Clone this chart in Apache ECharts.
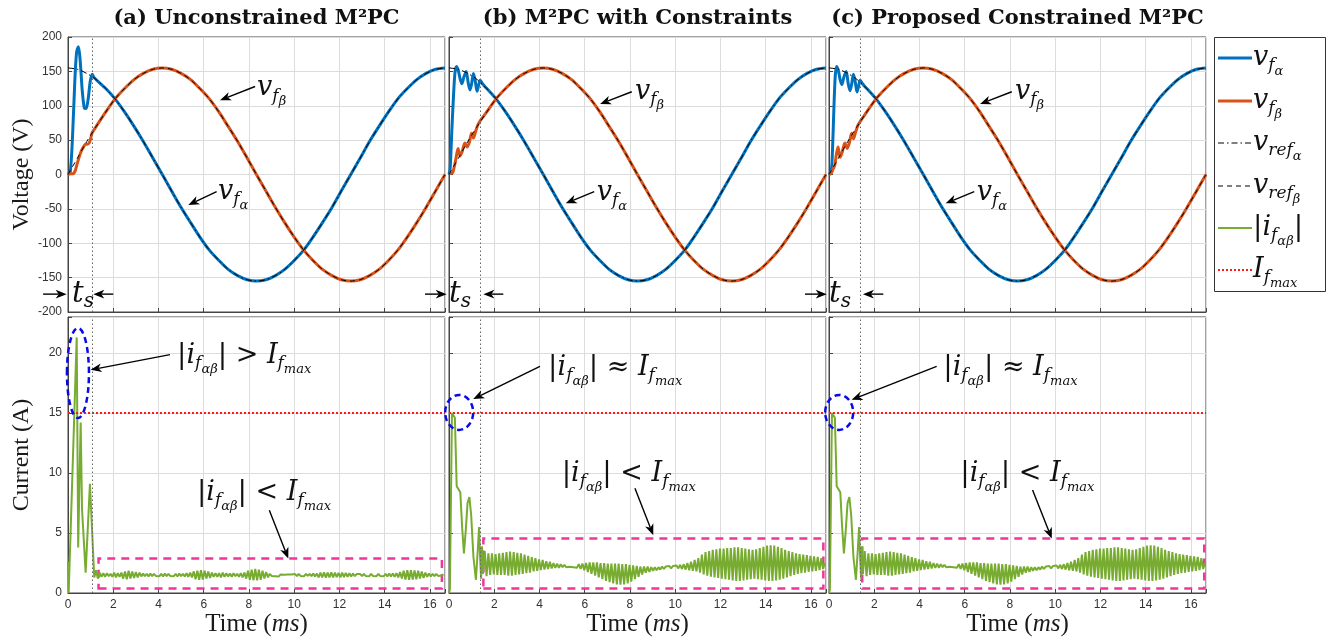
<!DOCTYPE html>
<html>
<head>
<meta charset="utf-8">
<script src="https://cdn.jsdelivr.net/npm/echarts@6.0.0/dist/echarts.min.js"></script>
<style>
html, body { margin: 0; padding: 0; background: #fff; }
#chart { width: 1335px; height: 641px; }
</style>
</head>
<body>
<div id="chart"></div>
<script>
// ---- data ----
var titles = ['(a) Unconstrained M\u00b2PC', '(b) M\u00b2PC with Constraints', '(c) Proposed Constrained M\u00b2PC'];
var tMax = 16.667;

// reference voltages (one 60 Hz cycle), V
var refT = [0,0.42,0.83,1.25,1.67,2.08,2.5,2.92,3.33,3.75,4.17,4.58,5,5.42,5.83,6.25,6.67,7.08,7.5,7.92,
    8.33,8.75,9.17,9.58,10,10.42,10.83,11.25,11.67,12.08,12.5,12.92,13.33,13.75,14.17,14.58,15,15.42,15.83,16.25,16.667];
var refAlpha = [155,153,147,138,125,110,91,70,48,24,0,-24,-48,-70,-91,-110,-125,-138,-147,-153,
    -155,-153,-147,-138,-125,-110,-91,-70,-48,-24,0,24,48,70,91,110,125,138,147,153,155];
var refBeta = [0,24,48,70,91,110,125,138,147,153,155,153,147,138,125,110,91,70,48,24,
    0,-24,-48,-70,-91,-110,-125,-138,-147,-153,-155,-153,-147,-138,-125,-110,-91,-70,-48,-24,0];

// start-up transients of the filter voltages [t (ms), V]
var vAlphaStartA = [[0,0],[0.1,4],[0.2,55],[0.3,135],[0.38,178],[0.46,186],[0.54,165],[0.63,122],[0.72,97],[0.8,96],
    [0.9,112],[0.98,135],[1.07,146],[1.15,141]];
var vBetaStartA = [[0,0],[0.1,1],[0.2,1],[0.3,4],[0.4,15],[0.5,26],[0.6,35],[0.7,41],[0.78,44],[0.86,44],
    [0.94,46],[1.0,52],[1.06,60],[1.15,65]];
var vAlphaStartB = [[0,0],[0.05,8],[0.12,60],[0.2,115],[0.27,150],[0.34,157],[0.42,150],[0.5,138],[0.57,132],[0.66,142],
    [0.76,150],[0.85,133],[0.93,123],[1.0,132],[1.08,147],[1.16,136],[1.24,121],[1.31,130],[1.38,137],[1.48,132]];
var vBetaStartB = [[0,2],[0.1,2],[0.17,3],[0.3,22],[0.4,38],[0.49,27],[0.58,33],[0.7,46],[0.8,40],[0.9,47],
    [1.0,60],[1.08,53],[1.18,63],[1.3,74]];
var vAlphaStartC = [[0,0],[0.1,5],[0.16,40],[0.22,100],[0.28,145],[0.34,157],[0.42,150],[0.5,137],[0.57,131],[0.66,142],
    [0.76,150],[0.85,132],[0.93,122],[1.0,131],[1.08,146],[1.16,135],[1.24,120],[1.31,129],[1.38,137],[1.48,132]];
var vBetaStartC = [[0,0],[0.1,2],[0.18,8],[0.26,14],[0.32,28],[0.4,40],[0.49,25],[0.58,32],[0.7,46],[0.8,38],
    [0.9,46],[1.0,60],[1.08,52],[1.18,62],[1.3,73]];

// filter current magnitude [t (ms), A]
var iStartA = [[0,2.6],[0.03,0],[0.1,0],[0.385,21.3],[0.45,3.8],[0.56,14.2],[0.62,7],[0.78,1.7],[0.97,9.1],[1.16,1.3]];
var iStartB = [[0,0],[0.04,0.3],[0.13,15],[0.2,15.1],[0.26,14.6],[0.34,8.9],[0.42,8.8],[0.5,8.4],[0.58,5.5],[0.66,3.3],
    [0.74,5.2],[0.82,7.5],[0.9,8.0],[0.98,6.5],[1.08,3.0],[1.19,1.1],[1.27,3.5],[1.33,5.5],[1.38,2.8],[1.42,1.2],[1.46,3.9]];

// steady-state ripple, one value every rippleStep ms
var rippleStep = 0.08;
var rippleStartA = 1.24;
var rippleA = [1.9,1.2,1.7,1.35,1.65,1.35,1.65,1.4,1.6,1.35,1.7,1.3,1.65,1.35,1.7,
    1.2,1.8,1.15,1.85,1.2,1.8,1.25,1.75,1.3,1.7,
    1.38,1.62,1.4,1.6,1.38,1.62,1.4,1.6,1.42,1.58,1.4,1.6,1.38,1.62,1.4,1.6,1.42,1.58,1.4,1.6,1.38,1.62,1.4,1.6,1.38,1.65,1.35,1.7,1.3,
    1.8,1.15,1.85,1.1,1.9,1.12,1.85,1.2,1.8,1.25,1.7,
    1.35,1.65,1.35,1.65,1.3,1.7,1.35,1.65,1.38,1.62,1.35,1.65,1.4,1.6,1.35,1.65,1.3,1.7,
    1.2,1.85,1.1,1.95,1.05,2.0,1.05,1.95,1.1,1.85,1.2,1.75,1.3,
    1.6,1.42,1.58,1.4,1.55,1.38,1.55,1.4,1.52,1.38,1.55,1.4,1.55,1.42,1.58,1.4,1.6,1.42,1.58,1.4,1.6,1.42,1.6,1.4,1.62,1.38,1.62,
    1.3,1.7,1.3,1.72,1.28,1.7,1.3,1.72,1.3,1.7,1.32,1.68,1.3,1.7,1.32,1.68,1.35,1.65,1.38,1.62,
    1.4,1.58,1.42,1.58,1.4,1.6,1.42,1.58,1.4,1.6,1.42,1.58,1.4,1.6,1.42,1.58,1.4,1.6,1.38,1.62,1.38,1.62,1.35,1.65,1.3,
    1.75,1.2,1.85,1.12,1.9,1.1,1.9,1.12,1.88,1.15,1.85,1.2,1.8,1.25,1.7,
    1.35,1.62,1.38,1.6,1.4,1.6,1.42,1.58,1.45,1.55];
var rippleStartB = 1.5;
var rippleB = [1.6,3.5,1.4,3.3,1.5,3.3,1.55,3.25,1.5,3.3,1.5,
    3.35,1.5,3.4,1.45,3.45,1.45,3.4,1.5,3.35,1.55,3.3,1.6,
    3.2,1.65,3.1,1.7,3.0,1.8,2.9,1.85,2.8,1.9,2.75,1.95,2.65,2.0,2.6,2.05,2.5,2.1,2.45,2.1,2.4,2.15,2.35,
    2.15,2.3,2.18,2.28,2.15,2.3,2.1,
    2.4,2.0,2.45,1.9,2.5,1.75,2.55,1.6,2.55,1.45,
    2.55,1.3,2.5,1.15,2.5,1.0,2.45,0.9,2.45,0.8,
    2.45,0.72,2.45,0.7,2.4,0.72,2.4,0.8,2.35,0.95,
    2.3,1.15,2.25,1.35,2.2,1.55,2.2,1.7,
    2.2,1.75,2.15,1.85,2.15,1.9,2.15,1.95,2.2,2.0,2.2,2.05,2.25,2.05,2.25,2.1,2.3,2.05,2.35,2.0,2.4,1.95,2.5,1.9,2.6,1.85,2.75,1.8,2.9,1.7,
    3.2,1.55,3.4,1.45,3.5,1.35,3.6,1.3,3.65,1.25,
    3.7,1.2,3.7,1.15,3.75,1.1,3.75,1.05,3.8,1.0,
    3.8,1.0,3.75,1.05,3.7,1.1,3.65,1.15,3.6,1.2,
    3.65,1.15,3.75,1.1,3.85,1.05,3.95,1.0,3.98,1.0,
    3.95,1.05,3.85,1.1,3.75,1.2,3.6,1.3,3.5,1.4,
    3.4,1.5,3.3,1.6,3.25,1.65,
    3.2,1.7,3.15,1.75,3.1,1.8,3.05,1.85,3.0,1.9,2.9,2.0,2.5];

var iMax = 15;
var tSettle = [1.07, 1.4, 1.4];

// ---- annotation anchors (data coords of each panel) ----
var boxes = [[[1.35,0.37],[16.53,2.87]], [[1.52,0.37],[16.55,4.54]], [[1.47,0.37],[16.59,4.54]]];
var ellipses = [[0.44,18.33,11,45], [0.45,15.05,14,17.5], [0.45,15.05,14,17.5]];
var labelVB = [[8.36,125.7],[8.22,120.7],[8.22,120.7]];
var arrowVB = [[[8.27,128],[6.72,108]], [[8.08,120.4],[6.68,102.5]], [[8.08,120.4],[6.68,102.5]]];
var labelVA = [[6.63,-25],[6.53,-27],[6.53,-27]];
var arrowVA = [[[6.57,-25],[5.32,-44.4]], [[6.42,-25],[5.16,-41.9]], [[6.42,-25],[5.16,-41.9]]];
var tsLabel = [[0.18,-174],[0.0,-174],[0.0,-174]];
var tsArrowIn = [[[-1.1,-174],[-0.06,-174]], [[-1.06,-174],[-0.1,-174]], [[-1.06,-174],[-0.1,-174]]];
var tsArrowOut = [[[2.0,-174],[1.12,-174]], [[2.4,-174],[1.52,-174]], [[2.4,-174],[1.5,-174]]];
var labelHigh = [[4.82,19.78],[4.38,18.77],[5.05,18.77]];
var arrowHigh = [[[4.51,19.86],[1.0,18.6]], [[4.02,18.88],[1.07,16.16]], [[4.76,18.88],[1.0,16.1]]];
var labelLow = [[5.70,8.37],[4.98,9.92],[5.8,9.92]];
var arrowLow = [[[8.9,6.9],[9.74,2.87]], [[8.22,8.72],[9.03,4.82]], [[9.0,8.58],[9.85,4.54]]];

// ---- helpers ----
function pairs(t, v) { return t.map(function (x, k) { return [x, v[k]]; }); }
function withRef(start, ref) {
    var last = start[start.length - 1][0];
    return start.concat(ref.filter(function (p) { return p[0] > last + 0.1; }));
}
function withRipple(start, t0, vals) {
    return start.concat(vals.map(function (v, k) { return [+(t0 + k * rippleStep).toFixed(3), v]; }));
}

var refA = pairs(refT, refAlpha);
var refB = pairs(refT, refBeta);
var vfAlpha = [withRef(vAlphaStartA, refA), withRef(vAlphaStartB, refA), withRef(vAlphaStartC, refA)];
var vfBeta = [withRef(vBetaStartA, refB), withRef(vBetaStartB, refB), withRef(vBetaStartC, refB)];
var iConstr = withRipple(iStartB, rippleStartB, rippleB);
var iData = [withRipple(iStartA, rippleStartA, rippleA), iConstr, iConstr];

var lefts = [68, 449, 829];
var W = 377;
var axisCol = '#444';
var tickFont = { fontFamily: 'Liberation Sans', fontSize: 12, color: '#333' };

var grids = [], xAxes = [], yAxes = [], series = [];
for (var row = 0; row < 2; row++) {
    for (var p = 0; p < 3; p++) {
        var gi = row * 3 + p;
        grids.push({ left: lefts[p], top: row ? 317 : 37, width: W, height: row ? 276 : 275,
            show: true, borderColor: axisCol, borderWidth: 1, outerBoundsMode: 'none' });
        xAxes.push({
            type: 'value', gridIndex: gi, min: 0, max: tMax, interval: 2,
            axisLine: { onZero: false, lineStyle: { color: axisCol } },
            axisTick: { inside: true, length: 4, lineStyle: { color: axisCol } },
            splitLine: { lineStyle: { color: '#dcdcdc' } },
            axisLabel: { show: row === 1, margin: 6, formatter: function (v) { return v % 2 === 0 ? v : ''; },
                fontFamily: tickFont.fontFamily, fontSize: tickFont.fontSize, color: tickFont.color },
            name: row === 1 ? '{r|Time (}{i|ms}{r|)}' : '',
            nameLocation: 'middle', nameGap: 19,
            nameTextStyle: { rich: {
                r: { fontFamily: 'Liberation Serif', fontSize: 25, color: '#1a1a1a' },
                i: { fontFamily: 'Liberation Serif', fontSize: 25, fontStyle: 'italic', color: '#1a1a1a' } } }
        });
        yAxes.push({
            type: 'value', gridIndex: gi,
            min: row ? 0 : -200, max: row ? 23 : 200, interval: row ? 5 : 50,
            axisLine: { show: true, onZero: false, lineStyle: { color: axisCol } },
            axisTick: { show: true, inside: true, length: 4, lineStyle: { color: axisCol } },
            splitLine: { lineStyle: { color: '#dcdcdc' } },
            axisLabel: { show: p === 0, margin: 6, formatter: function (v) { return v % 5 === 0 ? v : ''; },
                fontFamily: tickFont.fontFamily, fontSize: tickFont.fontSize, color: tickFont.color },
            name: p === 0 ? (row ? 'Current (A)' : 'Voltage (V)') : '',
            nameLocation: 'middle', nameGap: 34,
            nameTextStyle: { fontFamily: 'Liberation Serif', fontSize: 24, color: '#1a1a1a' }
        });
    }
}

function settleLine(p) {
    return { silent: true, symbol: ['none', 'none'], label: { show: false },
        lineStyle: { color: '#666', type: [1.5, 2.5], width: 1 }, data: [{ xAxis: tSettle[p] }] };
}

for (var q = 0; q < 3; q++) {
    series.push({ name: 'vfa', type: 'line', xAxisIndex: q, yAxisIndex: q, data: vfAlpha[q], smooth: 0.3,
        symbol: 'none', lineStyle: { color: '#0072BD', width: 3 }, color: '#0072BD', z: 2, markLine: settleLine(q) });
    series.push({ name: 'vfb', type: 'line', xAxisIndex: q, yAxisIndex: q, data: vfBeta[q], smooth: 0.3,
        symbol: 'none', lineStyle: { color: '#D95319', width: 3 }, color: '#D95319', z: 2 });
    series.push({ name: 'vrefa', type: 'line', xAxisIndex: q, yAxisIndex: q, data: refA, smooth: 0.3,
        symbol: 'none', lineStyle: { color: '#000', width: 1, type: [6, 3, 1.5, 3] }, color: '#000', z: 3 });
    series.push({ name: 'vrefb', type: 'line', xAxisIndex: q, yAxisIndex: q, data: refB, smooth: 0.3,
        symbol: 'none', lineStyle: { color: '#000', width: 1, type: [5, 4] }, color: '#000', z: 3 });
    series.push({ name: 'i', type: 'line', xAxisIndex: q + 3, yAxisIndex: q + 3, data: iData[q],
        symbol: 'none', lineStyle: { color: '#77AC30', width: 2 }, color: '#77AC30', z: 2,
        markLine: settleLine(q),
        markArea: { silent: true, itemStyle: { color: 'rgba(0,0,0,0)', borderColor: '#f0359b', borderWidth: 2.5, borderType: [8, 6] },
            data: [[{ coord: boxes[q][0] }, { coord: boxes[q][1] }]] } });
    series.push({ name: 'imax', type: 'line', xAxisIndex: q + 3, yAxisIndex: q + 3, data: [[0, iMax], [tMax, iMax]],
        symbol: 'none', lineStyle: { color: '#ff1a1a', width: 2, type: [2, 2] }, color: '#ff1a1a', z: 3 });
}

var chart = echarts.init(document.getElementById('chart'));
chart.setOption({
    animation: false,
    backgroundColor: '#fff',
    grid: grids, xAxis: xAxes, yAxis: yAxes, series: series
});

// ---- annotations ----
var mathRich = {
    m: { font: 'italic 27px "DejaVu Serif"' },
    s: { font: 'italic 17px "DejaVu Serif"', padding: [16, 0, 0, 0] },
    ss: { font: 'italic 13px "DejaVu Serif"', padding: [28, 0, 0, 0] },
    r: { font: '27px "DejaVu Serif"' },
    bar: { font: '28px "DejaVu Serif"' },
    t: { font: 'italic 29px "DejaVu Serif"' },
    ts: { font: 'italic 20px "DejaVu Serif"', padding: [16, 0, 0, 0] }
};
var txtVa = '{m|v}{s|f}{ss|\u03b1}';
var txtVb = '{m|v}{s|f}{ss|\u03b2}';
var txtI = '{bar||}{m|i}{s|f}{ss|\u03b1\u03b2}{bar||}';
var txtImax = '{m|I}{s|f}{ss|max}';

function px(gridIdx, c) {
    var r = chart.convertToPixel({ gridIndex: gridIdx }, c);
    return r || [0, 0];
}
function mathText(str, pt) {
    return { type: 'text', z: 100, style: { text: str, x: pt[0], y: pt[1], textAlign: 'left',
        textVerticalAlign: 'middle', rich: mathRich, fill: '#111', font: 'italic 27px "DejaVu Serif"' } };
}
function arrow(a, b, L) {
    L = L || 11;
    var dx = b[0] - a[0], dy = b[1] - a[1], len = Math.sqrt(dx * dx + dy * dy) || 1;
    var ux = dx / len, uy = dy / len, w = L * 0.4;
    var bx = b[0] - ux * L, by = b[1] - uy * L;
    var nx = b[0] - ux * L * 0.72, ny = b[1] - uy * L * 0.72;
    return [
        { type: 'line', z: 100, shape: { x1: a[0], y1: a[1], x2: nx, y2: ny }, style: { stroke: '#000', lineWidth: 1.4 } },
        { type: 'polygon', z: 100, shape: { points: [b, [bx - uy * w, by + ux * w], [nx, ny], [bx + uy * w, by - ux * w]] },
            style: { fill: '#000' } }
    ];
}

var g = [];
titles.forEach(function (s, k) {
    g.push({ type: 'text', style: { text: s, x: lefts[k] + W / 2, y: 19, textAlign: 'center', textVerticalAlign: 'middle',
        font: 'bold 21px "DejaVu Serif"', fill: '#111' } });
});
for (var k = 0; k < 3; k++) {
    var gTop = k, gBot = k + 3;
    g.push(mathText(txtVb, px(gTop, labelVB[k])));
    g = g.concat(arrow(px(gTop, arrowVB[k][0]), px(gTop, arrowVB[k][1])));
    g.push(mathText(txtVa, px(gTop, labelVA[k])));
    g = g.concat(arrow(px(gTop, arrowVA[k][0]), px(gTop, arrowVA[k][1])));
    g.push(mathText('{t|t}{ts|s}', px(gTop, tsLabel[k])));
    g = g.concat(arrow(px(gTop, tsArrowIn[k][0]), px(gTop, tsArrowIn[k][1]), 11));
    g = g.concat(arrow(px(gTop, tsArrowOut[k][0]), px(gTop, tsArrowOut[k][1]), 11));

    var rel = k === 0 ? ' > ' : ' \u2248 ';
    g.push(mathText(txtI + '{r|' + rel + '}' + txtImax, px(gBot, labelHigh[k])));
    g = g.concat(arrow(px(gBot, arrowHigh[k][0]), px(gBot, arrowHigh[k][1])));
    g.push(mathText(txtI + '{r| < }' + txtImax, px(gBot, labelLow[k])));
    g = g.concat(arrow(px(gBot, arrowLow[k][0]), px(gBot, arrowLow[k][1])));

    var ec = px(gBot, [ellipses[k][0], ellipses[k][1]]);
    g.push({ type: 'ellipse', z: 99, shape: { cx: ec[0], cy: ec[1], rx: ellipses[k][2], ry: ellipses[k][3] },
        style: { fill: 'none', stroke: '#0a0ae6', lineWidth: 2.5, lineDash: [6, 4] } });
}

// legend box
var legendItems = [
    { y: 58, text: txtVa, line: { stroke: '#0072BD', lineWidth: 3 } },
    { y: 101, text: txtVb, line: { stroke: '#D95319', lineWidth: 3 } },
    { y: 143, text: '{m|v}{s|ref}{ss|\u03b1}', line: { stroke: '#000', lineWidth: 1, lineDash: [6, 3, 1.5, 3] } },
    { y: 186, text: '{m|v}{s|ref}{ss|\u03b2}', line: { stroke: '#000', lineWidth: 1, lineDash: [5, 4] } },
    { y: 228, text: txtI, line: { stroke: '#77AC30', lineWidth: 2 } },
    { y: 270, text: txtImax, line: { stroke: '#ff1a1a', lineWidth: 2, lineDash: [2, 2] } }
];
g.push({ type: 'rect', shape: { x: 1214.5, y: 37.5, width: 111, height: 254 }, style: { fill: '#fff', stroke: '#333', lineWidth: 1 } });
legendItems.forEach(function (it) {
    g.push({ type: 'line', shape: { x1: 1218, y1: it.y, x2: 1252, y2: it.y }, style: it.line });
    g.push(mathText(it.text, [1253, it.y]));
});

chart.setOption({ graphic: g });
</script>
</body>
</html>
